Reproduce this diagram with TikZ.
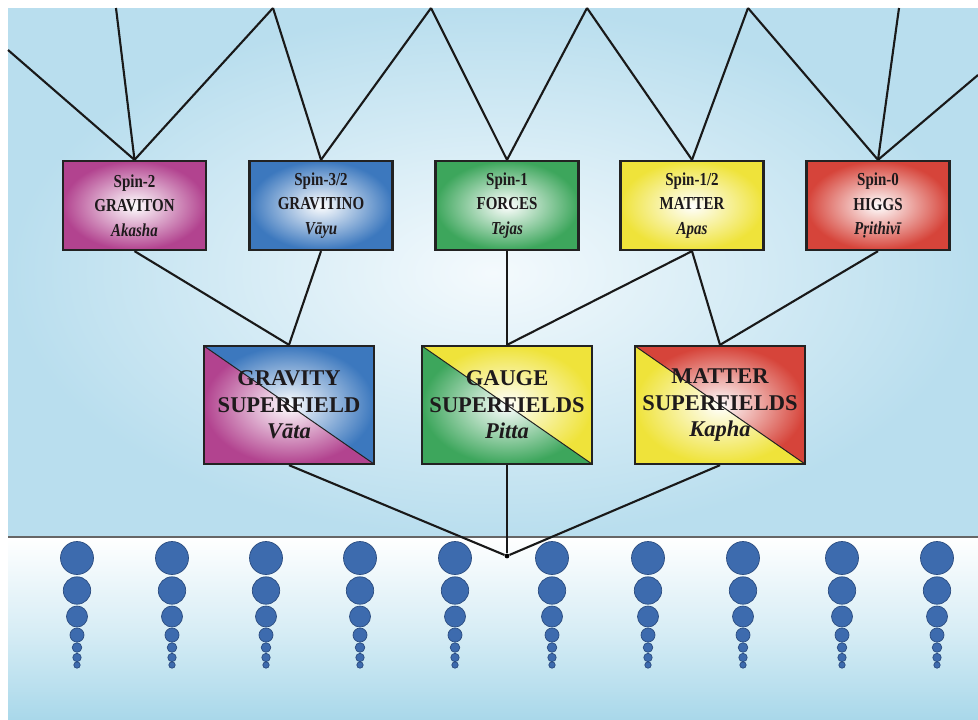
\documentclass[tikz,border=0pt]{standalone}
\usepackage{fontspec}
\setmainfont{Liberation Serif}
\newfontfamily\spinfont[FakeStretch=0.82]{Liberation Serif}
\usetikzlibrary{positioning}

\definecolor{skyout}{HTML}{B9DEEE}
\definecolor{skyin}{HTML}{F4FAFD}
\definecolor{seafloor}{HTML}{A9D8EA}
\definecolor{gravcol}{HTML}{B2438F}
\definecolor{tinocol}{HTML}{3C78BE}
\definecolor{forcecol}{HTML}{3DA65C}
\definecolor{mattercol}{HTML}{EFE33A}
\definecolor{higgscol}{HTML}{D6443A}
\definecolor{boxline}{HTML}{222222}
\definecolor{inkcol}{HTML}{1E1A1C}
\definecolor{beadcol}{HTML}{3D6BAE}
\definecolor{beadline}{HTML}{2B4C80}

\begin{document}
\begin{tikzpicture}[x=0.025cm,y=-0.025cm,
  spin/.style={draw=boxline,line width=1.6pt,shade,inner color=white,outer color=#1,
    minimum width=3.575cm,minimum height=2.225cm,inner sep=0pt,align=center,
    text=inkcol,font=\spinfont\fontsize{13}{17.4}\selectfont\bfseries},
  super/.style 2 args={draw=boxline,line width=1.6pt,
    minimum width=4.25cm,minimum height=2.95cm,inner sep=0pt,align=center,
    text=inkcol,font=\fontsize{16}{18.9}\selectfont\bfseries,
    path picture={
      \shade[inner color=white,outer color=#1]
        (path picture bounding box.north west) -- (path picture bounding box.south west)
        -- (path picture bounding box.south east) -- cycle;
      \shade[inner color=white,outer color=#2]
        (path picture bounding box.north west) -- (path picture bounding box.north east)
        -- (path picture bounding box.south east) -- cycle;
      \draw[boxline,line width=0.7pt]
        (path picture bounding box.north west) -- (path picture bounding box.south east);
    }},
  link/.style={line width=1.5pt,draw=black!90},
  bead/.style={fill=beadcol,draw=beadline,line width=0.5pt}]

\useasboundingbox (0,0) rectangle (978,719);
\fill[white] (0,0) rectangle (978,719);

% sky and sea
\shade[inner color=skyin,outer color=skyout] (8,8) rectangle (978,537);
\shade[top color=white,bottom color=seafloor,middle color=seafloor!45] (8,537) rectangle (978,719);
\draw[line width=1.6pt,black!60] (8,537) -- (978,537);

% beads
\foreach \cx in {77,172,266,360,455,552,648,743,842,937}
  \foreach \cy/\r in {558/16.5,590.5/13.7,616.5/10.5,635/7,647.5/4.8,657.5/4.2,665/3.2}
    \filldraw[bead] (\cx,\cy) circle[radius=\r];

% spin boxes
\node[spin=gravcol]   (graviton)  at (134.5,205.5) {Spin-2\\GRAVITON\\\textit{Akasha}};
\node[spin=tinocol]   (gravitino) at (321,205.5)   {Spin-3/2\\GRAVITINO\\\textit{Vāyu}};
\node[spin=forcecol]  (forces)    at (507,205.5)   {Spin-1\\FORCES\\\textit{Tejas}};
\node[spin=mattercol] (matter)    at (692,205.5)   {Spin-1/2\\MATTER\\\textit{Apas}};
\node[spin=higgscol]  (higgs)     at (878,205.5)   {Spin-0\\HIGGS\\\textit{Pṛithivī}};

% superfields
\node[super={gravcol}{tinocol}]     (gravity)  at (289,405) {GRAVITY\\SUPERFIELD\\\textit{Vāta}};
\node[super={forcecol}{mattercol}]  (gauge)    at (507,405) {GAUGE\\SUPERFIELDS\\\textit{Pitta}};
\node[super={mattercol}{higgscol}]  (mattersf) at (720,405) {MATTER\\SUPERFIELDS\\\textit{Kapha}};

\node[circle,fill=black,inner sep=0pt,minimum size=0.12cm] (hub) at (507,556) {};

% free ends at the top
\coordinate (t0) at (8,50);
\foreach \n/\x in {1/116,2/273,3/431,4/587,5/748,6/899}
  \coordinate (t\n) at (\x,8);
\coordinate (t7) at (978,75);

\foreach \a/\b in {graviton/t0,graviton/t1,graviton/t2,gravitino/t2,gravitino/t3,
    forces/t3,forces/t4,matter/t4,matter/t5,higgs/t5,higgs/t6,higgs/t7}
  \draw[link] (\a.north) -- (\b);

\foreach \a/\b in {graviton/gravity,gravitino/gravity,forces/gauge,
    matter/gauge,matter/mattersf,higgs/mattersf}
  \draw[link] (\a.south) -- (\b.north);

\foreach \a in {gravity,gauge,mattersf}
  \draw[link] (\a.south) -- (hub);
\end{tikzpicture}
\end{document}
